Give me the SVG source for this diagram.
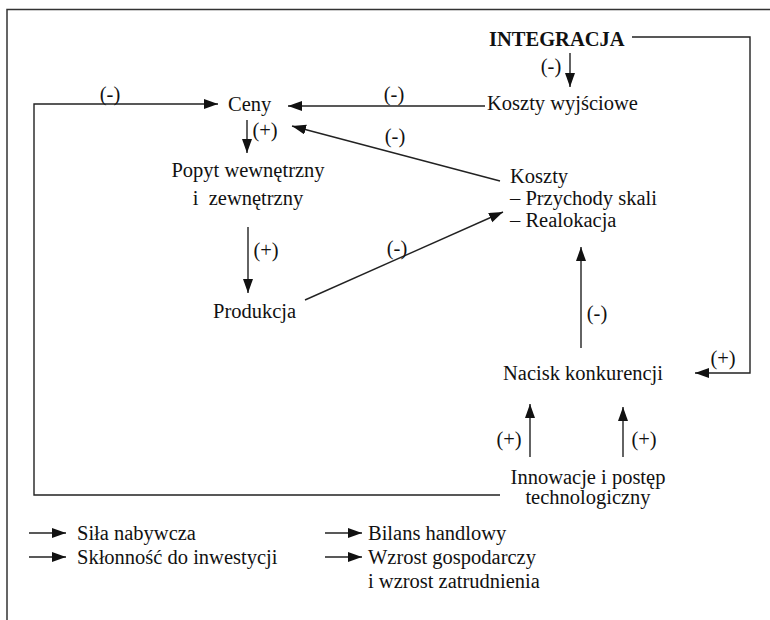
<svg xmlns="http://www.w3.org/2000/svg" width="770" height="620" viewBox="0 0 770 620">
<defs>
<marker id="ah" markerUnits="userSpaceOnUse" markerWidth="15" markerHeight="12" refX="14" refY="5" orient="auto">
<path d="M0,0 L14,5 L0,10 Z" fill="#111"/>
</marker>
<style>
text{font-family:"Liberation Serif","Times New Roman",serif;font-size:20.5px;fill:#111}
.b{font-weight:bold}
.c{stroke:#222;stroke-width:1.4;fill:none}
.a{marker-end:url(#ah)}
.f{stroke:#333;stroke-width:1.5;fill:none}
</style>
</defs>
<rect width="770" height="620" fill="#fff"/>
<path class="f" d="M7,620 V9.5 H770"/>
<g id="connectors">
<path class="c a" d="M500,495 H34 V104 H218"/>
<path class="c a" d="M485,106 H288"/>
<path class="c a" d="M570,53 V87"/>
<path class="c a" d="M632,37 H750 V373 H695"/>
<path class="c a" d="M247,120 V153"/>
<path class="c a" d="M500,181 L292,126"/>
<path class="c a" d="M248,227 V293"/>
<path class="c a" d="M305,300 L503,212"/>
<path class="c a" d="M581,348 V247"/>
<path class="c a" d="M530,457 V404"/>
<path class="c a" d="M623,457 V407"/>
<text x="110" y="101" text-anchor="middle">(-)</text>
<text x="394" y="101" text-anchor="middle">(-)</text>
<text x="551" y="73" text-anchor="middle">(-)</text>
<text x="265" y="137" text-anchor="middle">(+)</text>
<text x="395" y="143" text-anchor="middle">(-)</text>
<text x="266" y="257" text-anchor="middle">(+)</text>
<text x="397" y="255" text-anchor="middle">(-)</text>
<text x="597" y="320" text-anchor="middle">(-)</text>
<text x="723" y="365" text-anchor="middle">(+)</text>
<text x="509" y="446" text-anchor="middle">(+)</text>
<text x="644" y="446" text-anchor="middle">(+)</text>
</g>
<g id="integracja"><text class="b" x="489" y="46">INTEGRACJA</text></g>
<g id="koszty-wyjsciowe"><text x="487" y="110">Koszty wyjściowe</text></g>
<g id="ceny"><text x="228" y="111">Ceny</text></g>
<g id="popyt"><text x="248" y="177" text-anchor="middle">Popyt wewnętrzny</text><text x="248" y="205" text-anchor="middle" xml:space="preserve">i  zewnętrzny</text></g>
<g id="produkcja"><text x="213" y="318">Produkcja</text></g>
<g id="koszty"><text x="510" y="183">Koszty</text><text x="510" y="205">– Przychody skali</text><text x="510" y="227">– Realokacja</text></g>
<g id="nacisk"><text x="503" y="380">Nacisk konkurencji</text></g>
<g id="innowacje"><text x="588" y="484" text-anchor="middle">Innowacje i postęp</text><text x="588" y="504" text-anchor="middle">technologiczny</text></g>
<g id="legend">
<path class="c a" d="M29,533 H66"/>
<path class="c a" d="M29,557 H66"/>
<path class="c a" d="M325,533 H362"/>
<path class="c a" d="M325,557 H362"/>
<text x="77" y="540">Siła nabywcza</text>
<text x="77" y="564">Skłonność do inwestycji</text>
<text x="368" y="540">Bilans handlowy</text>
<text x="368" y="564">Wzrost gospodarczy</text>
<text x="368" y="588">i wzrost zatrudnienia</text>
</g>
</svg>
